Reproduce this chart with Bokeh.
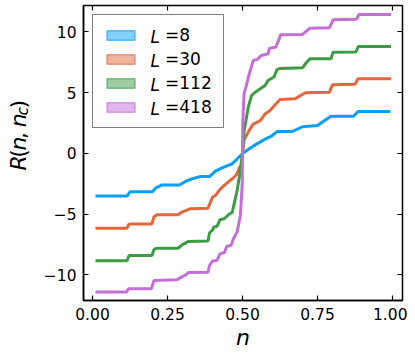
import numpy as np
from bokeh.plotting import figure
from bokeh.layouts import row
from bokeh.models import (Range1d, FixedTicker, LinearAxis, CustomJSTickFormatter,
                          Legend, LegendItem, Label)
from bokeh.core.properties import value
from bokeh.embed import file_html
from bokeh.resources import INLINE

# ---- data ----
L_values = ["8", "30", "112", "418"]
colors = ["#0a9ff7", "#e3673d", "#3c9c44", "#c46ed8"]

n_L8 = [0.01, 0.115, 0.125, 0.20, 0.21, 0.23, 0.29, 0.31, 0.33, 0.36, 0.39, 0.41, 0.43,
        0.45, 0.465, 0.48, 0.50, 0.52, 0.545, 0.577, 0.595, 0.615, 0.665, 0.70, 0.75,
        0.77, 0.795, 0.87, 0.885, 0.993]
R_L8 = [-3.5, -3.5, -3.15, -3.15, -2.85, -2.6, -2.6, -2.3, -2.1, -1.9, -1.9, -1.45, -1.2,
        -1.0, -0.85, -0.5, 0.0, 0.35, 0.75, 1.2, 1.4, 1.8, 1.8, 2.2, 2.3,
        2.66, 3.07, 3.07, 3.45, 3.45]

n_L30 = [0.01, 0.115, 0.122, 0.198, 0.205, 0.215, 0.285, 0.30, 0.325, 0.385, 0.39, 0.40,
         0.41, 0.425, 0.44, 0.455, 0.465, 0.48, 0.49, 0.495, 0.50, 0.505, 0.52, 0.535,
         0.56, 0.575, 0.59, 0.605, 0.625, 0.675, 0.69, 0.71, 0.79, 0.80, 0.875, 0.885, 0.995]
R_L30 = [-6.15, -6.15, -5.8, -5.8, -5.2, -5.05, -5.05, -4.8, -4.55, -4.5, -4.2, -3.6,
         -3.45, -2.95, -2.6, -2.3, -2.1, -1.75, -1.15, -1.0, 0.0, 1.1, 1.8, 2.4,
         2.72, 3.25, 3.5, 3.9, 4.44, 4.5, 4.72, 5.0, 5.05, 5.65, 5.7, 6.15, 6.15]

n_L112 = [0.01, 0.115, 0.122, 0.198, 0.205, 0.215, 0.285, 0.30, 0.32, 0.385, 0.39, 0.40,
          0.405, 0.415, 0.425, 0.44, 0.455, 0.466, 0.482, 0.493, 0.50, 0.505, 0.512,
          0.52, 0.53, 0.54, 0.558, 0.575, 0.585, 0.605, 0.615, 0.625, 0.70, 0.712, 0.725,
          0.795, 0.802, 0.878, 0.886, 0.995]
R_L112 = [-8.83, -8.83, -8.4, -8.4, -7.9, -7.8, -7.8, -7.5, -7.24, -7.2, -6.55, -6.3,
          -6.05, -6.0, -5.45, -5.35, -5.0, -4.83, -3.05, -1.4, 0.0, 1.8, 2.8,
          3.9, 4.75, 5.0, 5.3, 5.6, 6.0, 6.3, 6.9, 7.0, 7.05, 7.46, 7.79,
          7.8, 8.34, 8.36, 8.8, 8.8]

n_L418 = [0.01, 0.113, 0.12, 0.196, 0.205, 0.28, 0.295, 0.31, 0.32, 0.385, 0.39, 0.40,
          0.415, 0.425, 0.44, 0.447, 0.462, 0.47, 0.482, 0.493, 0.499, 0.50, 0.501,
          0.505, 0.513, 0.524, 0.536, 0.55, 0.563, 0.585, 0.59, 0.61, 0.619, 0.627,
          0.70, 0.713, 0.724, 0.79, 0.802, 0.88, 0.888, 0.995]
R_L418 = [-11.41, -11.41, -11.14, -11.14, -10.45, -10.4, -10.2, -10.0, -9.8, -9.77, -9.22,
          -8.85, -8.8, -8.26, -8.15, -7.65, -7.55, -7.0, -6.47, -5.1, -2.5, 0.0, 2.5,
          4.9, 5.6, 6.7, 7.65, 7.75, 8.07, 8.2, 8.67, 8.75, 9.22, 9.77,
          9.8, 10.07, 10.3, 10.35, 11.0, 11.05, 11.44, 11.44]

series_n = [n_L8, n_L30, n_L112, n_L418]
series_R = [R_L8, R_L30, R_L112, R_L418]

x_ticks = [0.0, 0.25, 0.5, 0.75, 1.0]
y_ticks = [-10, -5, 0, 5, 10]

FONT = "DejaVu Sans"
TICK_FS = "15.5px"
LABEL_FS = "22px"
LEG_FS = 17

X0, X1 = -0.03, 1.0333
Y0, Y1 = -12.1, 12.18
H = 352
LEFT_W = 40
FR_L, FR_R, FR_T, FR_B = 83, 402, 5, 300   # frame edges in page pixels

p = figure(width=407 - LEFT_W, height=H, output_backend="svg", toolbar_location=None,
           x_range=Range1d(X0, X1), y_range=Range1d(Y0, Y1),
           min_border_left=FR_L - LEFT_W, min_border_right=407 - FR_R, min_border_top=FR_T,
           min_border_bottom=H - FR_B)
p.grid.visible = False
p.background_fill_color = "white"
p.border_fill_color = "white"
p.outline_line_color = "black"
p.outline_line_width = 1.5

xfmt = CustomJSTickFormatter(code="return tick.toFixed(2);")
yfmt = CustomJSTickFormatter(code="return tick < 0 ? '\u2212' + (-tick) : String(tick);")
for ax, tk, fm in ((p.xaxis[0], x_ticks, xfmt), (p.yaxis[0], y_ticks, yfmt)):
    ax.ticker = FixedTicker(ticks=tk)
    ax.formatter = fm
    ax.minor_tick_line_color = None
    ax.major_tick_in = 5
    ax.major_tick_out = 0
    ax.major_tick_line_width = 1.2
    ax.major_tick_line_color = "black"
    ax.axis_line_color = "black"
    ax.axis_line_width = 1.5
    ax.major_label_text_font = FONT
    ax.major_label_text_font_size = TICK_FS
    ax.major_label_text_color = "black"
    ax.major_label_standoff = 7

xa = p.xaxis[0]
xa.axis_label = "n"
xa.axis_label_text_font = FONT
xa.axis_label_text_font_size = LABEL_FS
xa.axis_label_text_font_style = "italic"
xa.axis_label_text_color = "black"
xa.axis_label_standoff = 2

# ticks on top and right (no labels)
blank = CustomJSTickFormatter(code="return '';")
for tk, place in ((x_ticks, "above"), (y_ticks, "right")):
    ax = LinearAxis(ticker=FixedTicker(ticks=tk), formatter=blank)
    ax.major_label_standoff = 0
    ax.minor_tick_line_color = None
    ax.major_tick_in = 5
    ax.major_tick_out = 0
    ax.major_tick_line_width = 1.2
    ax.major_tick_line_color = "black"
    ax.axis_line_color = None
    p.add_layout(ax, place)

# pixel -> data helpers for the main frame
def dx(px):
    return X0 + (px - FR_L) * (X1 - X0) / (FR_R - FR_L)

def dy(py):
    return Y1 - (py - FR_T) * (Y1 - Y0) / (FR_B - FR_T)

LEG_MARGIN, LEG_PAD, LEG_SP, LEG_LH = 9, 10, 4, 20

# italic "L" in front of each legend label (math style: italic L, upright "=8");
# the legend box is transparent, so these show through it (no data lies there)
for i in range(len(L_values)):
    center = FR_T + LEG_MARGIN + LEG_PAD + i * (LEG_LH + LEG_SP) + LEG_LH / 2
    p.add_layout(Label(x=dx(150), y=dy(center + 2), x_units="data", y_units="data",
                       text="L", text_font=FONT, text_font_size=f"{LEG_FS}px",
                       text_font_style="italic", text_color="black",
                       text_align="left", text_baseline="alphabetic"))

items = []
for lv, c, xs, ys in zip(L_values, colors, series_n, series_R):
    p.line(xs, ys, line_color=c, line_width=3)
    # zero-size proxy (hidden under the line start) used for the legend patch
    q = p.quad(left=xs[:1], right=xs[:1], top=ys[:1], bottom=ys[:1], fill_color=c,
               fill_alpha=0.5, line_color=c, line_alpha=0.6, line_width=1.5)
    items.append(LegendItem(label=value("=" + lv), renderers=[q]))

legend = Legend(items=items, location="top_left", margin=LEG_MARGIN, padding=LEG_PAD,
                spacing=LEG_SP, glyph_width=35, glyph_height=12, label_standoff=27,
                label_height=LEG_LH, label_width=48,
                border_line_color="black", border_line_width=1.5,
                label_text_font=FONT, label_text_font_size=f"{LEG_FS}px",
                label_text_font_style="normal", label_text_color="black",
                background_fill_color="white", background_fill_alpha=0.0)
p.add_layout(legend)

# ---- y-axis label R(n, n_c) in a narrow side panel (pixel coordinates) ----
side = figure(width=LEFT_W, height=H, output_backend="svg", toolbar_location=None,
              x_range=Range1d(0, LEFT_W), y_range=Range1d(H, 0),
              x_axis_location=None, y_axis_location=None,
              min_border_left=0, min_border_right=0, min_border_top=0, min_border_bottom=0)
side.grid.visible = False
side.outline_line_color = None
side.background_fill_color = "white"
side.border_fill_color = "white"

pieces = [("R", "italic", 22, 15.3, 0), ("(", "normal", 22, 8.6, 0), ("n", "italic", 22, 13.9, 0),
          (",", "normal", 22, 14.0, 0), ("n", "italic", 22, 13.9, 0),
          ("c", "italic", 15.4, 8.5, 4.5), (")", "normal", 22, 8.6, 0)]
BASE_X = 17.7
pos = 197.0
for txt, style, fs, adv, shift in pieces:
    side.add_layout(Label(x=BASE_X + shift, y=pos, x_units="data", y_units="data", text=txt,
                          angle=np.pi / 2, text_font=FONT, text_font_size=f"{fs}px",
                          text_font_style=style, text_color="black",
                          text_align="left", text_baseline="alphabetic"))
    pos -= adv

layout = row(side, p, spacing=0)
open("out.html", "w").write(file_html(layout, INLINE))
